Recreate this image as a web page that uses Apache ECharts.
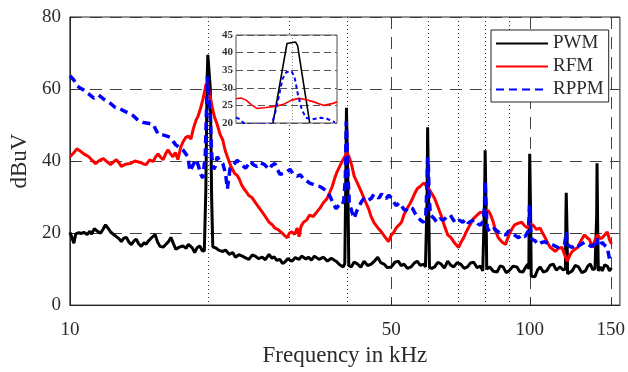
<!DOCTYPE html>
<html>
<head>
<meta charset="utf-8">
<script src="https://cdn.jsdelivr.net/npm/echarts@6.0.0/dist/echarts.min.js"></script>
<style>
html, body { margin: 0; padding: 0; background: #fff; }
#chart { width: 628px; height: 372px; }
</style>
</head>
<body>
<div id="chart"></div>
<script>
// frequency (kHz), level (dBuV)
const xTicks = [10, 50, 100, 150];
const xMinorGrid = [20, 30, 40, 60, 70, 80, 90];

const pwm = [
  [10.0,20.2],[10.1,18.8],[10.2,17.2],[10.3,19.8],[10.45,20.1],[10.6,19.9],[10.72,20.2],[10.9,19.6],[11.05,20.5],[11.15,19.7],[11.3,21.2],[11.37,21.6],[11.5,20.4],[11.66,20.0],[11.8,21.0],[11.95,22.3],[12.1,21.4],[12.26,20.3],[12.45,19.6],[12.62,19.0],[12.8,18.4],[12.94,17.6],[13.1,18.6],[13.27,18.8],[13.45,17.4],[13.6,16.8],[13.8,17.9],[13.94,18.3],[14.1,17.1],[14.29,16.3],[14.5,17.3],[14.65,16.9],[14.79,17.7],[15.05,18.7],[15.32,19.6],[15.5,17.6],[15.7,16.3],[15.95,16.1],[16.18,16.9],[16.4,17.7],[16.58,18.8],[16.8,17.0],[17.0,15.5],[17.3,16.1],[17.61,16.4],[17.9,15.8],[18.1,16.9],[18.24,16.7],[18.45,15.9],[18.68,14.6],[18.9,15.9],[19.16,16.4],[19.4,15.1],[19.6,15.0],
  [19.75,32],[19.88,63],[19.95,69.5],[20.1,69.3],[20.2,60],[20.33,30],[20.45,16.2],
  [20.8,15.8],[21.1,15.2],[21.5,14.9],[21.8,15.3],[22.2,14.1],[22.6,14.6],[22.9,13.3],[23.3,14.0],[23.7,13.6],[24.1,13.1],[24.5,12.7],[24.9,13.9],[25.3,13.6],[25.7,12.9],[26.2,13.3],[26.6,12.6],[27.1,14.1],[27.5,13.0],[27.8,13.4],[28.2,12.4],[28.6,12.7],[29.0,11.6],[29.3,11.9],[29.8,12.9],[30.4,12.2],[30.9,13.2],[31.5,12.7],[31.9,13.6],[32.2,14.1],[32.6,12.8],[33.0,13.3],[33.5,12.5],[34.0,13.6],[34.8,12.7],[35.6,13.3],[36.3,12.2],[37.0,13.0],[37.9,12.2],[38.6,11.2],[39.3,10.6],
  [39.6,11.5],[39.8,35],[39.93,54.8],[40.08,54.5],[40.2,35],[40.4,11],
  [40.9,10.6],[41.5,12.0],[42.2,11.4],[42.9,10.5],[43.6,12.2],[44.4,11.0],[45.2,11.4],[46.0,12.3],[46.7,13.3],[47.4,11.8],[48.2,11.4],[49.0,10.4],[50.0,10.6],[50.9,11.9],[51.8,12.2],[52.5,10.9],[53.2,11.4],[54.2,10.2],[55.2,10.6],[56.0,11.6],[56.9,12.2],[57.8,11.0],[58.8,11.4],[59.3,10.6],
  [59.6,11],[59.8,30],[59.95,49.4],[60.1,49],[60.25,30],[60.5,10.5],
  [61.2,10.2],[62.1,10.6],[63.1,11.9],[64.1,11.4],[65.2,10.3],[66.3,12.2],[67.3,11.1],[68.3,10.6],[69.5,11.8],[70.7,11.4],[72.0,10.2],[73.2,10.6],[74.3,11.7],[75.5,11.9],[76.8,10.4],[78.1,10.8],[79.0,9.5],
  [79.5,10],[79.75,30],[79.95,43],[80.1,42.8],[80.3,28],[80.6,10],
  [81.8,10.6],[83.3,9.4],[84.9,9.2],[86.2,10.9],[87.5,10.6],[88.8,9.0],[90.1,9.5],[91.9,10.8],[93.7,10.6],[95.1,9.3],[96.6,9.2],[97.8,10.4],[99.0,11.4],
  [99.5,10],[99.75,30],[99.95,42],[100.15,41.7],[100.4,25],[100.7,8],
  [101.6,8.2],[102.6,7.9],[104.0,9.8],[105.3,10.6],[107.0,9.2],[108.8,9.5],[110.6,11.0],[112.4,11.4],[114.2,9.7],[116.3,10.6],[118.2,9.8],
  [119.5,10],[119.8,25],[120,31.2],[120.2,30.8],[120.5,20],[120.8,8.7],
  [122.0,8.7],[123.6,9.5],[125.5,11.0],[127.6,10.6],[129.8,9.0],[132.1,9.5],[133.8,10.9],[135.4,11.4],[137.0,9.8],[138.6,10.2],
  [139.4,10],[139.75,25],[140,39.4],[140.2,39],[140.5,20],[140.9,9.5],
  [142.2,10.6],[143.7,9.5],[145.5,11.2],[147.4,10.8],[149.0,9.5],[150.5,10.3]
];

const rfm = [
  [10.0,41.2],[10.2,42.3],[10.35,43.4],[10.55,42.7],[10.72,42.0],[10.99,41.2],[11.2,40.1],[11.37,39.3],[11.6,40.2],[11.83,40.7],[12.05,39.8],[12.26,39.0],[12.45,39.8],[12.62,40.4],[12.8,39.4],[12.94,38.5],[13.2,39.1],[13.53,39.3],[13.85,40.0],[14.22,39.6],[14.45,39.2],[14.65,39.0],[14.9,40.3],[15.17,39.9],[15.35,41.1],[15.55,42.0],[15.75,41.0],[15.95,40.4],[16.15,42.0],[16.34,43.1],[16.55,42.0],[16.75,41.2],[16.95,42.4],[17.17,40.4],[17.43,44.0],[17.65,45.5],[17.87,46.6],[18.1,46.9],[18.33,46.1],[18.55,49.0],[18.8,51.3],[19.0,52.5],[19.25,54.8],[19.45,57.0],[19.64,59.4],[19.74,61.0],[19.9,61.6],
  [20.15,58.5],[20.4,54.8],[20.65,52.0],[20.9,50.2],[21.2,47.5],[21.5,45.8],[21.75,43.0],[22.0,41.2],[22.4,38.5],[22.8,36.6],[23.1,36.0],[23.35,35.0],[23.6,33.5],[23.9,32.3],[24.2,31.4],[24.5,30.4],[24.9,29.8],[25.3,28.5],[25.7,27.3],[26.2,25.8],[26.6,24.6],[27.1,23.0],[27.5,22.4],[27.9,21.4],[28.4,20.9],[28.95,20.0],[29.3,19.3],[29.7,18.7],[30.0,20.0],[30.4,20.3],[30.8,19.6],[31.2,21.4],[31.5,19.0],[31.8,21.8],[32.2,23.0],[32.7,23.6],[33.2,25.0],[33.8,24.6],[34.4,25.8],[35.0,27.0],[35.6,28.5],[36.2,29.5],[36.7,31.2],[37.2,33.0],[37.6,35.0],[38.1,37.0],[38.6,38.5],[39.1,40.0],[39.6,41.2],[40.0,42.5],[40.5,41.0],[41.0,38.8],[41.5,35.8],[42.3,33.5],[43.1,31.2],[43.8,29.0],[44.6,26.8],[45.2,24.5],[45.8,23.0],[46.7,21.5],[47.6,20.3],[48.5,18.8],[49.3,17.6],[50.0,19.5],[50.6,20.2],[51.2,21.4],[51.9,22.2],[52.6,23.0],[53.3,25.2],[54.1,26.8],[54.8,28.0],[55.6,29.6],[56.2,31.0],[56.9,32.3],[57.8,33.0],[58.8,33.9],[59.5,33.2],[60.3,32.3],[61.2,31.0],[62.1,29.6],[63.1,27.3],[64.1,25.0],[65.2,22.0],[66.3,19.5],[67.3,18.8],[68.3,17.6],[69.1,16.8],[70.0,16.0],[70.9,17.5],[71.8,18.7],[72.6,20.1],[73.5,21.4],[74.5,22.8],[75.5,24.1],[76.8,25.0],[78.1,25.8],[79.5,25.5],[81.2,26.3],[82.2,25.0],[83.3,23.0],[84.3,20.5],[85.4,18.7],[87.0,17.5],[88.6,16.8],[89.3,18.2],[90.1,19.5],[91.3,21.0],[92.5,22.2],[94.2,22.7],[96.0,23.0],[97.5,22.0],[99.0,21.4],[100.3,22.5],[101.6,22.2],[103.4,21.0],[105.3,21.4],[106.6,20.0],[108.0,18.7],[109.4,17.2],[110.8,16.0],[112.2,15.5],[113.6,14.9],[115.5,15.8],[117.5,16.0],[119.0,14.0],[120.6,12.2],[122.1,13.8],[123.6,14.9],[125.4,15.5],[127.1,16.0],[129.3,18.0],[131.5,19.5],[133.2,18.7],[134.8,18.2],[136.8,16.0],[138.5,18.0],[140.2,19.5],[142.0,18.5],[143.7,18.7],[145.5,19.5],[147.4,20.3],[149.0,18.2],[150.5,17.0]
];

const rppm = [
  [10.0,63.7],[10.2,62.5],[10.35,61.0],[10.55,60.2],[10.72,59.7],[11.0,58.6],[11.27,57.5],[11.55,58.3],[11.9,57.0],[12.26,56.0],[12.56,54.8],[12.8,54.6],[13.07,54.0],[13.4,53.3],[13.73,52.6],[14.08,51.3],[14.43,50.7],[14.8,50.5],[15.17,50.2],[15.55,47.5],[16.0,47.2],[16.51,46.6],[16.99,44.5],[17.3,43.8],[17.61,43.1],[18.05,41.2],[18.24,37.2],[18.5,38.8],[18.8,40.4],[19.05,38.5],[19.25,36.3],[19.46,35.3],
  [19.7,42],[19.9,63.5],[20.05,64.0],[20.2,52],[20.35,41.2],
  [20.55,37.7],[20.7,38.5],[20.9,41.2],[21.2,40.0],[21.5,39.3],[21.8,36.5],[22.0,32.3],[22.3,38.0],[22.8,39.3],[23.1,40.2],[23.5,39.3],[24.1,38.0],[24.7,39.9],[25.1,38.9],[25.5,38.5],[26.0,39.5],[26.5,39.0],[27.1,37.7],[27.5,38.8],[27.9,39.3],[28.6,36.3],[29.3,36.6],[30.1,37.7],[30.6,36.4],[31.2,35.8],[31.7,36.2],[32.2,35.0],[32.7,34.5],[33.2,33.9],[33.8,33.5],[34.4,33.1],[35.0,32.9],[35.6,32.3],[36.2,31.6],[36.7,30.4],[37.3,28.5],[37.9,26.8],[38.5,27.8],[39.0,27.6],[39.4,29.0],
  [39.7,35],[39.9,51],[40.1,50.5],[40.3,34],
  [40.5,28.5],[41.0,26.0],[41.5,24.1],[42.0,26.0],[42.6,27.6],[43.1,28.8],[43.6,29.6],[44.4,29.0],[45.2,29.6],[45.8,30.8],[46.3,30.4],[47.0,29.7],[47.6,30.9],[48.1,30.2],[48.7,29.6],[49.4,30.5],[50.0,29.8],[50.6,28.7],[51.2,27.6],[52.0,28.4],[52.6,27.6],[53.2,26.6],[53.8,26.3],[54.6,27.2],[55.6,26.8],[56.4,25.3],[57.3,24.1],[58.0,23.5],[58.8,23.0],
  [59.4,25],[59.7,32],[59.95,41],[60.15,40],[60.4,30],
  [60.8,25.0],[61.8,24.2],[62.8,23.0],[63.8,24.0],[64.9,23.6],[66.0,24.5],[67.2,25.0],[68.0,23.9],[68.9,22.8],[70.2,23.6],[71.5,23.0],[72.5,23.9],[73.5,22.8],[74.8,23.4],[76.1,23.6],[77.1,22.6],[78.1,22.2],
  [79.3,23.5],[79.7,28],[79.95,34.4],[80.15,34],[80.4,26],
  [80.8,21.5],[81.8,20.3],[83.6,21.2],[85.4,20.3],[87.0,19.7],[88.6,19.5],[90.0,20.6],[91.5,20.0],[93.0,19.3],[94.5,18.7],[96.0,19.5],[97.6,19.0],
  [99.2,20.5],[99.6,24],[99.9,27.7],[100.15,27.5],[100.4,21],
  [101.1,18.2],[102.6,17.9],[104.1,16.8],[106.0,17.4],[107.9,17.6],[109.8,16.9],[111.7,16.8],[113.4,16.4],[115.1,16.0],[117.0,16.7],[119.0,16.8],[119.8,19.5],[120.1,20.3],[120.5,17],[121.8,16.4],[123.6,16.0],[125.3,16.8],[127.1,16.3],[129.3,16.9],[131.5,17.4],[133.8,16.8],[136.1,16.3],[138.2,16.9],[139.7,17],[140.1,18.5],[140.5,16.3],[142.0,16.6],[143.7,17.4],[145.5,16.6],[147.4,16.0],[148.5,15.5],[149.3,12.2]
];

// inset (zoomed peak), x in percent of inset width
const insetPwm = [[36.6,20],[50.5,42.6],[52,43],[59,43],[61,42],[73,20]];
const insetRfm = [[0,26.9],[5,27.1],[10,26.5],[15,25.2],[21,24.1],[30,24.4],[40,24.8],[47,25.3],[55,26.5],[62,27.0],[70,26.6],[77,26.0],[87,25.0],[95,25.5],[100,26.0]];
const insetRppm = [[0,21.6],[4,21.0],[9,19.6],[35,19.6],[38,22],[42,27],[46,32.5],[50,34.5],[55,34.7],[58,33],[61,28.5],[65,24],[69,21.5],[75,21],[84,21.5],[90,21.2],[98,20.2]];

const serif = '"Liberation Serif", "DejaVu Serif", serif';
const txt = '#2b2b2b';

let myChart = echarts.init(document.getElementById('chart'));
let option = {
  animation: false,
  backgroundColor: '#fff',
  grid: [
    { left: 66, right: 7, top: 17, bottom: 60, show: true, borderColor: '#262626', borderWidth: 1 },
    { left: 236, top: 35, width: 101, height: 88, show: true, backgroundColor: '#fff', borderColor: '#555', borderWidth: 1, z: 5 }
  ],
  legend: {
    data: ['PWM', 'RFM', 'RPPM'],
    orient: 'vertical',
    left: 491, top: 30,
    itemWidth: 52, itemHeight: 18, itemGap: 4,
    padding: [4, 5, 3, 4],
    borderColor: '#222', borderWidth: 1, backgroundColor: '#fff',
    itemStyle: { opacity: 0 },
    textStyle: { fontFamily: serif, fontSize: 19, color: txt, lineHeight: 19 },
    z: 10
  },
  xAxis: [
    {
      type: 'log', gridIndex: 0, min: 10, max: 157,
      name: 'Frequency in kHz', nameLocation: 'middle', nameGap: 35,
      nameTextStyle: { fontFamily: serif, fontSize: 23, color: txt },
      axisLine: { lineStyle: { color: '#262626' } },
      axisTick: { inside: true, length: 5, customValues: xTicks, lineStyle: { color: '#262626' } },
      axisLabel: { customValues: xTicks, margin: 15, fontFamily: serif, fontSize: 19, color: txt,
        formatter: function (v) { return String(Math.round(v)); } },
      splitLine: { show: true, lineStyle: { type: [12, 8], color: '#404040', width: 1 } }
    },
    {
      type: 'log', gridIndex: 0, min: 10, max: 157,
      axisLine: { show: false },
      axisTick: { show: false, customValues: xMinorGrid },
      axisLabel: { show: false, customValues: xMinorGrid },
      splitLine: { show: true, lineStyle: { type: [1, 3], color: '#333', width: 1 } }
    },
    {
      type: 'value', gridIndex: 1, min: 0, max: 100, interval: 56, z: 6,
      axisLine: { show: false }, axisTick: { show: false }, axisLabel: { show: false },
      splitLine: { show: true, lineStyle: { type: [1, 2], color: '#999', width: 1 } }
    }
  ],
  yAxis: [
    {
      type: 'value', gridIndex: 0, min: 0, max: 80, interval: 20,
      name: 'dBuV', nameLocation: 'middle', nameGap: 36,
      nameTextStyle: { fontFamily: serif, fontSize: 23, color: txt },
      axisLine: { show: true, lineStyle: { color: '#262626' } },
      axisTick: { show: true, inside: true, length: 5, lineStyle: { color: '#262626' } },
      axisLabel: { margin: 9, fontFamily: serif, fontSize: 19, color: txt },
      splitLine: { show: true, lineStyle: { type: [12, 8], color: '#404040', width: 1 } }
    },
    {
      type: 'value', gridIndex: 1, min: 20, max: 45, interval: 5, z: 6,
      axisLine: { show: false }, axisTick: { show: false },
      axisLabel: { margin: 3, fontFamily: serif, fontSize: 11, fontWeight: 'bold', color: '#333', backgroundColor: '#fff' },
      splitLine: { show: true, lineStyle: { type: [7, 4], color: '#555', width: 1 } }
    }
  ],
  series: [
    { name: 'PWM', type: 'line', xAxisIndex: 0, yAxisIndex: 0, data: pwm, symbol: 'none', z: 2,
      lineStyle: { color: '#000', width: 3 }, itemStyle: { color: '#000' } },
    { name: 'RFM', type: 'line', xAxisIndex: 0, yAxisIndex: 0, data: rfm, symbol: 'none', z: 3,
      lineStyle: { color: '#ff0000', width: 3 }, itemStyle: { color: '#ff0000' } },
    { name: 'RPPM', type: 'line', xAxisIndex: 0, yAxisIndex: 0, data: rppm, symbol: 'none', z: 4,
      lineStyle: { color: '#0000ff', width: 3.5, type: [8, 5] }, itemStyle: { color: '#0000ff' } },
    { name: 'PWM inset', type: 'line', xAxisIndex: 2, yAxisIndex: 1, data: insetPwm, symbol: 'none', z: 7, clip: true,
      lineStyle: { color: '#000', width: 1.6 } },
    { name: 'RFM inset', type: 'line', xAxisIndex: 2, yAxisIndex: 1, data: insetRfm, symbol: 'none', z: 7, clip: true,
      lineStyle: { color: '#ff0000', width: 1.6 } },
    { name: 'RPPM inset', type: 'line', xAxisIndex: 2, yAxisIndex: 1, data: insetRppm, symbol: 'none', z: 8, clip: true,
      lineStyle: { color: '#0000ff', width: 2, type: [4, 3] } }
  ]
};
myChart.setOption(option);
</script>
</body>
</html>
